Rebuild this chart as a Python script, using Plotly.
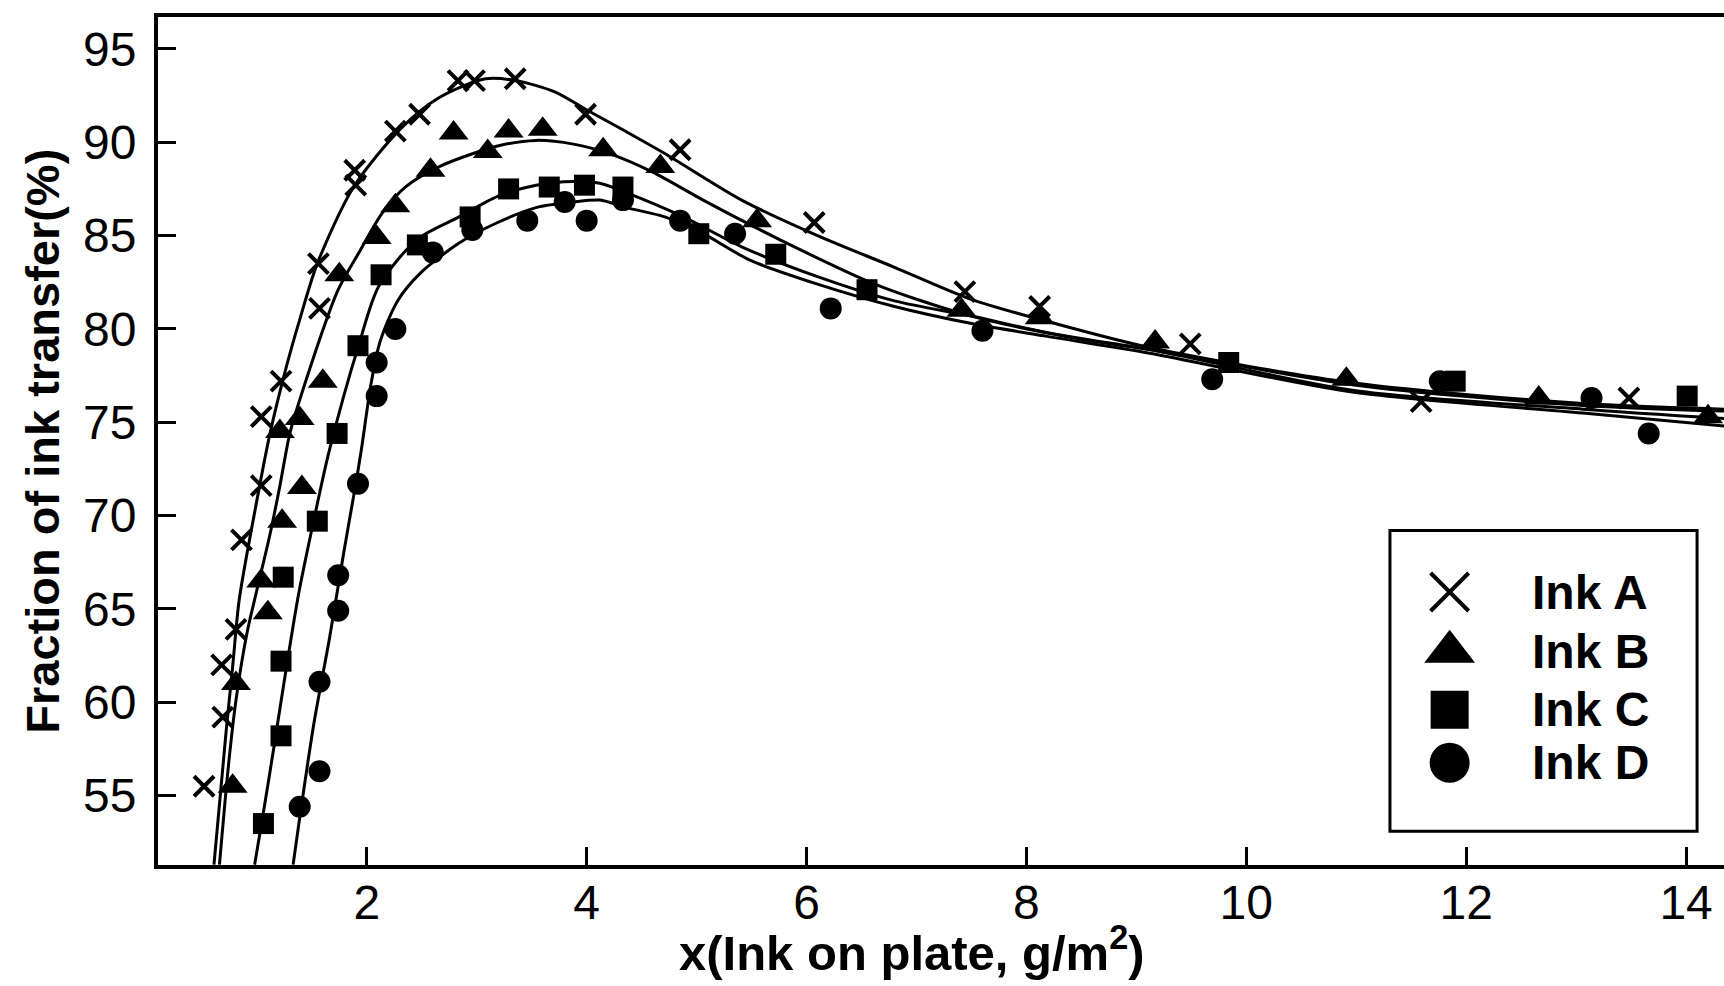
import plotly.graph_objects as go

# Measured ink transfer fractions (%) against ink on plate (g/m^2)
ink_a_x = [0.52, 0.69, 0.68, 0.81, 0.86, 1.04, 1.04, 1.22, 1.57, 1.56, 1.90, 1.89, 2.26, 2.48,
           2.83, 2.98, 3.35, 3.99, 4.85, 6.07, 7.44, 8.12, 9.49, 11.59, 13.48]
ink_a_y = [55.5, 59.2, 62.0, 63.9, 68.7, 71.6, 75.3, 77.2, 81.1, 83.5, 87.7, 88.5, 90.6, 91.5,
           93.3, 93.3, 93.4, 91.5, 89.6, 85.7, 82.0, 81.2, 79.2, 76.1, 76.3]

ink_b_x = [0.78, 0.81, 1.10, 1.04, 1.23, 1.41, 1.21, 1.39, 1.60, 1.75, 2.09, 2.26, 2.58, 2.79,
           3.10, 3.29, 3.60, 4.15, 4.67, 5.55, 7.41, 8.12, 9.17, 10.91, 12.66, 14.20]
ink_b_y = [55.5, 61.0, 64.8, 66.5, 69.7, 71.5, 74.5, 75.2, 77.2, 82.9, 84.9, 86.6, 88.5, 90.5,
           89.5, 90.6, 90.7, 89.6, 88.7, 85.8, 81.0, 80.6, 79.3, 77.3, 76.3, 75.3]

ink_c_x = [1.06, 1.22, 1.22, 1.24, 1.55, 1.73, 1.92, 2.13, 2.46, 2.94, 3.29, 3.66, 3.98, 4.33,
           5.02, 5.72, 6.55, 9.84, 11.90, 14.01]
ink_c_y = [53.5, 58.2, 62.2, 66.7, 69.7, 74.4, 79.1, 82.9, 84.5, 86.0, 87.5, 87.6, 87.7, 87.6,
           85.1, 84.0, 82.1, 78.2, 77.2, 76.4]

ink_d_x = [1.39, 1.57, 1.57, 1.74, 1.74, 1.92, 2.09, 2.09, 2.26, 2.60, 2.96, 3.46, 3.80, 4.00,
           4.33, 4.85, 5.35, 6.22, 7.60, 9.69, 11.76, 13.14, 13.66]
ink_d_y = [54.4, 56.3, 61.1, 64.9, 66.8, 71.7, 76.4, 78.2, 80.0, 84.1, 85.3, 85.8, 86.8, 85.8,
           86.9, 85.8, 85.1, 81.1, 79.9, 77.3, 77.2, 76.3, 74.4]

# Fitted model curves for each ink
fit_a_x = [0.61, 0.72, 0.78, 0.84, 1.00, 1.12, 1.27, 1.39, 1.55, 1.88, 2.32, 2.66, 3.08, 3.36,
           3.71, 4.01, 4.35, 4.71, 5.41, 6.10, 6.80, 7.49, 8.19, 9.12, 10.98, 13.06, 14.35]
fit_a_y = [51.3, 58.4, 61.9, 65.5, 70.8, 74.4, 78.0, 80.5, 83.5, 87.6, 90.8, 92.4, 93.4, 93.3,
           92.7, 91.7, 90.6, 89.4, 86.9, 85.0, 83.3, 81.6, 80.4, 79.0, 77.1, 76.0, 75.7]

fit_b_x = [0.66, 0.74, 0.81, 0.91, 1.00, 1.12, 1.21, 1.30, 1.39, 1.74, 1.92, 2.14, 2.35, 2.66,
           3.19, 3.54, 3.88, 4.20, 4.60, 5.06, 5.75, 6.62, 7.49, 8.54, 9.12, 10.98, 13.06, 14.35]
fit_b_y = [51.3, 56.5, 60.1, 63.7, 66.0, 69.0, 71.6, 74.4, 76.2, 82.1, 84.0, 86.2, 87.6, 88.7,
           89.8, 90.1, 89.9, 89.4, 88.4, 86.9, 84.8, 82.4, 80.7, 79.4, 78.9, 76.7, 75.7, 75.2]

fit_c_x = [0.98, 1.06, 1.15, 1.27, 1.38, 1.52, 1.66, 1.93, 2.11, 2.46, 2.84, 3.19, 3.54, 3.88,
           4.12, 4.36, 4.88, 5.41, 6.10, 6.80, 7.49, 8.19, 9.12, 10.98, 13.06, 14.35]
fit_c_y = [51.3, 54.1, 57.4, 61.9, 65.8, 69.8, 73.5, 79.2, 82.3, 84.8, 86.0, 87.1, 87.7, 87.9,
           87.8, 87.3, 86.0, 84.4, 82.8, 81.5, 80.7, 79.8, 78.9, 77.0, 75.9, 75.6]

fit_d_x = [1.33, 1.38, 1.52, 1.66, 1.79, 1.90, 1.95, 2.04, 2.12, 2.28, 2.49, 2.84, 3.19, 3.54,
           3.88, 4.12, 4.36, 4.71, 5.06, 5.48, 6.10, 6.80, 7.49, 8.19, 9.12, 10.98, 13.06, 14.35]
fit_d_y = [51.3, 53.4, 58.9, 63.4, 68.0, 71.7, 73.5, 77.1, 79.3, 81.5, 83.0, 84.6, 85.7, 86.5,
           86.8, 86.9, 86.5, 86.0, 85.1, 83.7, 82.4, 81.2, 80.3, 79.6, 78.7, 76.6, 75.5, 74.8]

series_names = ["Ink A", "Ink B", "Ink C", "Ink D"]
x_ticks = [2, 4, 6, 8, 10, 12, 14]
y_ticks = [55, 60, 65, 70, 75, 80, 85, 90, 95]

BLACK = "#000000"
FONT = "Liberation Sans, Arial, sans-serif"

fig = go.Figure()

# model curves
for fx, fy in [(fit_a_x, fit_a_y), (fit_b_x, fit_b_y), (fit_c_x, fit_c_y), (fit_d_x, fit_d_y)]:
    fig.add_trace(go.Scatter(x=fx, y=fy, mode="lines", line=dict(color=BLACK, width=3,
                                                                 shape="spline", smoothing=0.8),
                             showlegend=False, hoverinfo="skip"))

symbols = ["x-thin", "triangle-up", "square", "circle"]
sizes = [20, 26, 21, 22]
data = [(ink_a_x, ink_a_y), (ink_b_x, ink_b_y), (ink_c_x, ink_c_y), (ink_d_x, ink_d_y)]
for (px, py), sym, sz, name in zip(data, symbols, sizes, series_names):
    fig.add_trace(go.Scatter(
        x=px, y=py, mode="markers", name=name, showlegend=False,
        marker=dict(symbol=sym, size=sz, color=BLACK,
                    line=dict(color=BLACK, width=4 if sym == "x-thin" else 0)),
    ))

# legend keys drawn on an overlay unit frame
key_x = 0.8248
row_y = [0.3219, 0.2514, 0.1830, 0.1205]
key_sizes = [38, 44, 38, 40]
for sym, sz, ry in zip(symbols, key_sizes, row_y):
    fig.add_trace(go.Scatter(
        x=[key_x], y=[ry], xaxis="x2", yaxis="y2", mode="markers", showlegend=False,
        hoverinfo="skip",
        marker=dict(symbol=sym, size=sz, color=BLACK,
                    line=dict(color=BLACK, width=4 if sym == "x-thin" else 0)),
    ))

annotations = []
for name, ry in zip(series_names, row_y):
    annotations.append(dict(x=0.876, y=ry, xref="paper", yref="paper", text="<b>%s</b>" % name,
                            showarrow=False, xanchor="left", yanchor="middle",
                            font=dict(family=FONT, size=48, color=BLACK)))

annotations.append(dict(x=0.4814, y=-0.099, xref="paper", yref="paper",
                        text="<b>x(Ink on plate, g/m<sup>2</sup>)</b>", showarrow=False,
                        xanchor="center", yanchor="middle",
                        font=dict(family=FONT, size=49, color=BLACK)))
annotations.append(dict(x=-0.0743, y=0.5, xref="paper", yref="paper",
                        text="<b>Fraction of ink transfer(%)</b>", showarrow=False,
                        textangle=-90, xanchor="center", yanchor="middle",
                        font=dict(family=FONT, size=47, color=BLACK)))

fig.update_layout(
    width=1724, height=986,
    margin=dict(l=158, r=0, t=17, b=121),
    paper_bgcolor="white", plot_bgcolor="rgba(0,0,0,0)",
    showlegend=False,
    xaxis=dict(range=[0.101, 14.345], tickvals=x_ticks, ticktext=[str(v) for v in x_ticks],
               ticks="inside", ticklen=18, tickwidth=3, tickcolor=BLACK,
               showline=True, linewidth=4, linecolor=BLACK, mirror=True,
               showgrid=False, zeroline=False, ticklabelstandoff=-8,
               tickfont=dict(family=FONT, size=48, color=BLACK)),
    yaxis=dict(range=[51.28, 96.71], tickvals=y_ticks, ticktext=[str(v) for v in y_ticks],
               ticks="inside", ticklen=18, tickwidth=3, tickcolor=BLACK,
               showline=True, linewidth=4, linecolor=BLACK, mirror=False,
               showgrid=False, zeroline=False, ticklabelstandoff=8,
               tickfont=dict(family=FONT, size=48, color=BLACK)),
    xaxis2=dict(overlaying="x", range=[0, 1], visible=False, fixedrange=True),
    yaxis2=dict(overlaying="y", range=[0, 1], visible=False, fixedrange=True),
    shapes=[dict(type="rect", xref="paper", yref="paper", x0=0.7867, x1=0.9828,
                 y0=0.0398, y1=0.3946, line=dict(color=BLACK, width=3), fillcolor="white",
                 layer="below")],
    annotations=annotations,
)

fig.write_html("out.html")
